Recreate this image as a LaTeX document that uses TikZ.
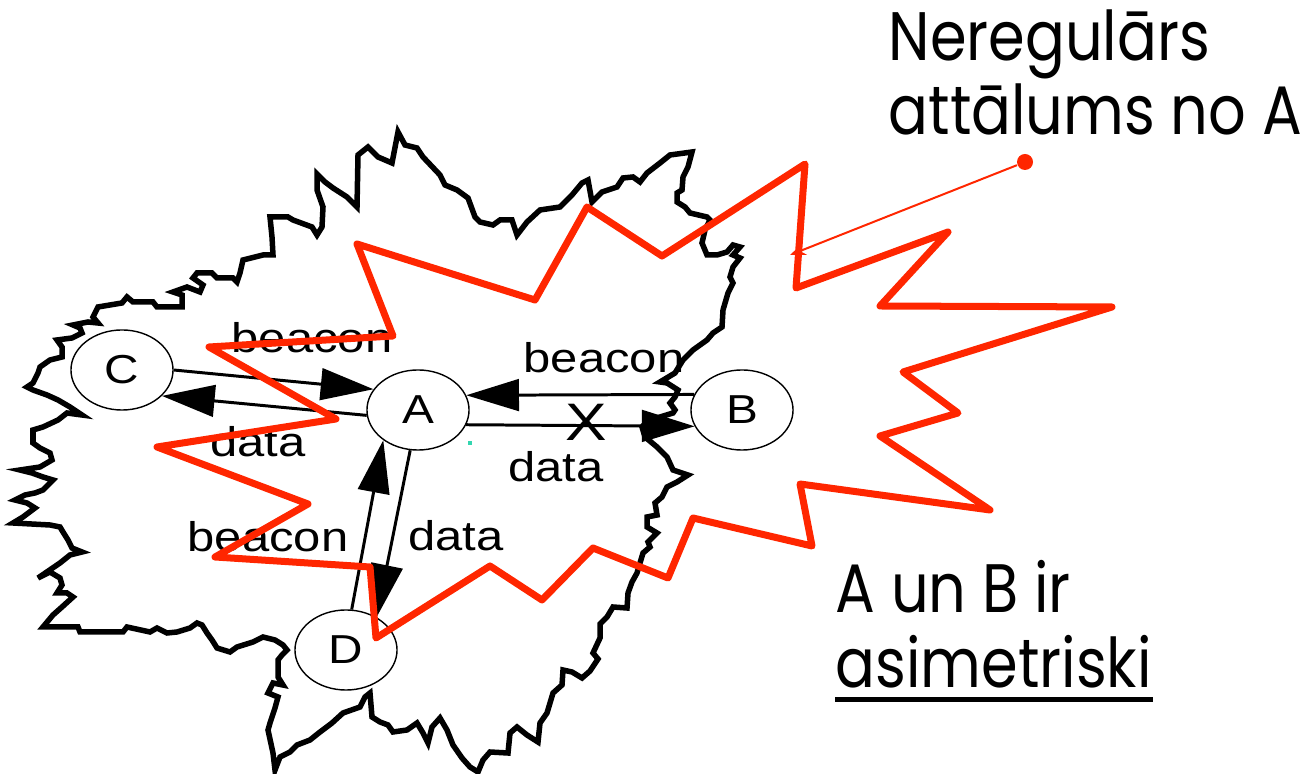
\documentclass[tikz,border=0pt]{standalone}
\usepackage{fontspec}
\setmainfont{Liberation Sans}
\newfontfamily\netfont[FakeStretch=1.18]{Liberation Sans}
\newfontfamily\notefont[FakeStretch=0.86]{Poppins}
\usepackage{tikz}
\usetikzlibrary{shapes.geometric,arrows.meta}
\definecolor{zone}{HTML}{FF2600}
\definecolor{stray}{HTML}{33D6B0}

\begin{document}
\begin{tikzpicture}[
    x=0.01cm, y=-0.01cm,
    station/.style={draw,ellipse,line width=0.4pt,fill=white,minimum width=1.02cm,minimum height=0.8cm,inner sep=0pt,font=\netfont\fontsize{11.5}{13}\selectfont},
    msg/.style={anchor=base,inner sep=0pt,font=\netfont\fontsize{11.8}{14}\selectfont},
    note/.style={anchor=base west,inner sep=0pt,font=\notefont\fontsize{19.5}{22}\selectfont},
    link/.style={-{Triangle[length=15pt,width=9pt]},line width=0.85pt},
    reach/.style={line width=0.055cm},
    burst/.style={draw=zone,line width=0.07cm,line join=round}
  ]
    \useasboundingbox (0,0) rectangle (1310,774);

    % Real radio range of A
    \draw[reach] (23,517) -- (35,508) -- (27,503) -- (15,500) -- (25,495) -- (35,493) -- (43,490) -- (53,480)
      -- (43,477) -- (32,473) -- (20,470) -- (40,467) -- (52,460) -- (50,453) -- (40,448) -- (33,443)
      -- (33,430) -- (43,427) -- (58,420) -- (67,413) -- (82,415) -- (70,407) -- (58,400) -- (47,395)
      -- (33,390) -- (27,387) -- (33,383) -- (38,373) -- (40,367) -- (50,360) -- (62,357) -- (62,347)
      -- (57,340) -- (72,338) -- (82,333) -- (80,328) -- (73,325) -- (88,322) -- (98,323) -- (93,317)
      -- (98,307) -- (122,303) -- (127,297) -- (133,302) -- (153,302) -- (157,307) -- (182,307) -- (182,295)
      -- (173,292) -- (187,287) -- (200,292) -- (203,285) -- (193,278) -- (197,273) -- (212,273) -- (217,278)
      -- (233,278) -- (237,282) -- (240,273) -- (243,260) -- (263,255) -- (273,255) -- (272,237) -- (270,217)
      -- (288,217) -- (293,220) -- (312,227) -- (317,235) -- (322,227) -- (323,207) -- (317,190) -- (317,174)
      -- (325,182) -- (333,188) -- (347,197) -- (357,207) -- (358,155) -- (368,147) -- (378,157) -- (392,163)
      -- (398,132) -- (405,145) -- (417,148) -- (423,157) -- (440,175) -- (445,185) -- (457,190) -- (468,198)
      -- (475,217) -- (480,222) -- (493,225) -- (500,220) -- (512,220) -- (517,235) -- (527,222) -- (540,210)
      -- (560,207) -- (572,195) -- (582,183) -- (588,180) -- (592,202) -- (602,192) -- (617,187) -- (623,178)
      -- (633,177) -- (640,182) -- (647,173) -- (660,163) -- (670,155) -- (692,152) -- (688,167) -- (683,177)
      -- (682,190) -- (677,193) -- (677,202) -- (685,207) -- (690,213) -- (707,217) -- (710,220) -- (705,230)
      -- (702,243) -- (707,255) -- (717,255) -- (727,252) -- (733,245) -- (740,247) -- (733,255) -- (740,258)
      -- (733,267) -- (730,277) -- (733,283) -- (728,293) -- (723,310) -- (722,327) -- (713,333) -- (707,340)
      -- (693,350) -- (683,360) -- (675,373) -- (660,382) -- (667,383) -- (678,390) -- (675,397) -- (670,403)
      -- (675,410) -- (673,413) -- (660,417) -- (648,420) -- (642,427) -- (645,437) -- (657,447) -- (667,457)
      -- (673,470) -- (688,475) -- (677,482) -- (667,487) -- (662,497) -- (655,503) -- (657,515) -- (647,517)
      -- (647,527) -- (657,533) -- (648,542) -- (650,547) -- (643,553) -- (640,563) -- (637,573) -- (632,582)
      -- (628,593) -- (627,608) -- (613,607) -- (607,617) -- (600,624) -- (600,638) -- (593,653) -- (598,659)
      -- (590,671) -- (582,678) -- (572,672) -- (563,670) -- (562,685) -- (553,693) -- (547,713) -- (540,723)
      -- (538,742) -- (527,735) -- (517,727) -- (510,733) -- (508,753) -- (490,752) -- (483,760) -- (478,772)
      -- (470,767) -- (462,758) -- (453,745) -- (447,730) -- (440,718) -- (432,727) -- (428,743) -- (423,733)
      -- (417,723) -- (407,730) -- (393,732) -- (388,725) -- (380,722) -- (372,717) -- (370,693) -- (365,697)
      -- (360,707) -- (343,713) -- (332,723) -- (320,732) -- (310,740) -- (297,745) -- (290,752) -- (280,757)
      -- (275,770) -- (273,753) -- (268,730) -- (270,723) -- (275,708) -- (278,697) -- (268,693) -- (273,683)
      -- (283,685) -- (278,677) -- (278,660) -- (282,655) -- (287,650) -- (283,645) -- (275,640) -- (263,637)
      -- (253,642) -- (237,647) -- (230,652) -- (217,648) -- (212,640) -- (207,633) -- (202,625) -- (197,623)
      -- (190,628) -- (177,632) -- (167,633) -- (157,628) -- (150,632) -- (127,627) -- (123,632) -- (80,632)
      -- (78,627) -- (43,627) -- (53,615) -- (62,607) -- (73,597) -- (67,593) -- (57,593) -- (62,585)
      -- (60,578) -- (50,572) -- (38,578) -- (60,563) -- (70,555) -- (82,552) -- (72,548) -- (68,540)
      -- (63,532) -- (60,527) -- (50,525) -- (13,523) -- cycle;

    % Stations
    \node[station] (C) at (122,370) {C};
    \node[station] (A) at (418,410) {A};
    \node[station] (B) at (742,410) {B};
    \node[station] (D) at (346,650) {D};

    % Beacons and data
    \draw[link] (C.east) -- (A.155);
    \draw[link] (A.186) -- (C.327);
    \draw[link] (B.162) -- (A.17);
    \draw[link] (A.343) -- (B.199);
    \draw[link] (D.82) -- (A.221);
    \draw[link] (A.259) -- (D.47);

    \node[msg] (cabeacon) at (312,353) {beacon};
    \node[msg] (acdata) at (258,457) {data};
    \node[msg] (babeacon) at (604,373) {beacon};
    \node[msg] (abdata) at (556,482) {data};
    \node[msg] (dabeacon) at (268,552) {beacon};
    \node[msg] (addata) at (456,551) {data};
    \node[inner sep=0pt,font=\netfont\fontsize{15}{18}\selectfont] (lost) at (586,422) {X};
    \fill[stray] (468,441) rectangle (472,445);

    % Irregular range as assumed
    \draw[burst] (357,244) -- (535,300) -- (587,207) -- (662,256) -- (805,164) -- (796,288) -- (948,232)
      -- (880,306) -- (1112,307) -- (903,372) -- (958,413) -- (880,436) -- (990,510) -- (800,484)
      -- (812,546) -- (693,518) -- (668,578) -- (593,548) -- (542,600) -- (490,566) -- (376,638)
      -- (370,567) -- (215,557) -- (308,504) -- (157,447) -- (336,419) -- (209,347) -- (393,336) -- cycle;

    % Notes
    \node[circle,fill=zone,inner sep=0pt,minimum size=0.16cm] (pin) at (1025,162) {};
    \coordinate (pinend) at (790,255);
    \draw[zone,line width=0.02cm,-{Stealth[length=4.5pt,width=3.5pt]}] (pin) -- (pinend);

    \node[note] (far1) at (888,61) {Neregulārs};
    \node[note] (far2) at (888,135) {attālums no A};
    \node[note] (asym1) at (835,613) {A un B ir};
    \node[note] (asym2) at (835,688) {asimetriski};
    \draw[line width=0.05cm] ([yshift=-0.11cm]asym2.base west) -- ([yshift=-0.11cm]asym2.base east);
  \end{tikzpicture}
\end{document}
